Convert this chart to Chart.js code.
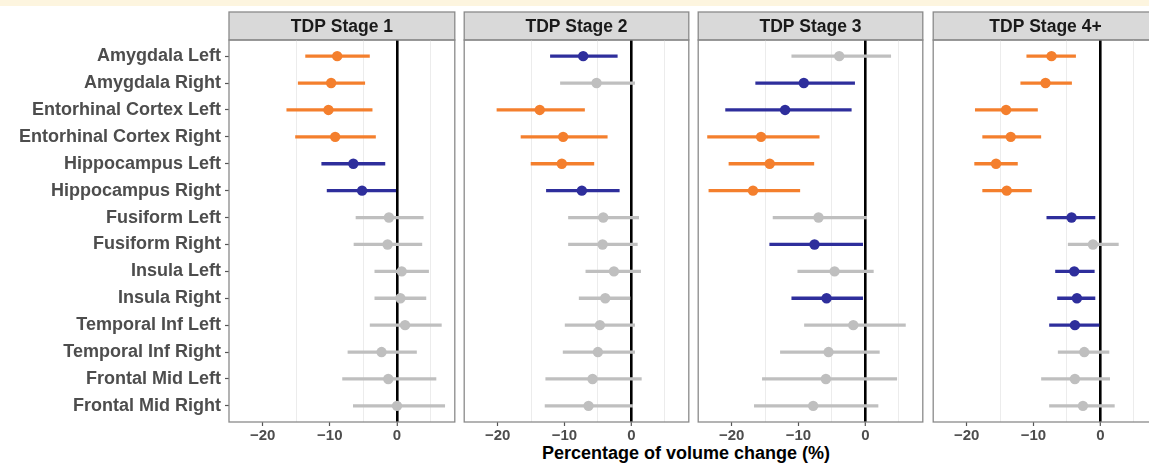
<!DOCTYPE html>
<html>
<head>
<meta charset="utf-8">
<script src="https://cdn.jsdelivr.net/npm/chart.js@4.4.1/dist/chart.umd.min.js"></script>
<style>
  body { margin: 0; background: #fff; overflow: hidden; }
  #wrap { position: relative; width: 1149px; height: 465px; overflow: hidden; background: #fff; }
  #band { position: absolute; left: 0; top: 0; width: 1149px; height: 6px; background: #fdf5df; }
  .panel { position: absolute; top: 0; }
  #xtitle { position: absolute; left: 486px; top: 442px; width: 400px; text-align: center;
            font: bold 18px "Liberation Sans", Arial, sans-serif; line-height: 22px; color: #000; }
</style>
</head>
<body>
<div id="wrap">
  <div id="band"></div>
  <div id="xtitle">Percentage of volume change (%)</div>
</div>
<script>
// regions, top to bottom
var regions = ['Amygdala Left', 'Amygdala Right', 'Entorhinal Cortex Left', 'Entorhinal Cortex Right',
    'Hippocampus Left', 'Hippocampus Right', 'Fusiform Left', 'Fusiform Right', 'Insula Left',
    'Insula Right', 'Temporal Inf Left', 'Temporal Inf Right', 'Frontal Mid Left', 'Frontal Mid Right'];
var stages = ['TDP Stage 1', 'TDP Stage 2', 'TDP Stage 3', 'TDP Stage 4+'];
var xTickValues = [-20, -15, -10, -5, 0, 5];

var stage1Mid = [-8.9, -9.8, -10.2, -9.2, -6.5, -5.2, -1.2, -1.4, 0.7, 0.5, 1.2, -2.3, -1.3, 0.0];
var stage1Lo  = [-13.6, -14.7, -16.4, -15.1, -11.2, -10.4, -6.1, -6.4, -3.3, -3.3, -4.0, -7.3, -8.1, -6.5];
var stage1Hi  = [-4.1, -4.8, -3.7, -3.2, -1.8, 0.0, 3.9, 3.7, 4.7, 4.3, 6.6, 2.9, 5.8, 7.1];
var stage1Sig = ['strong', 'strong', 'strong', 'strong', 'weak', 'weak', 'ns', 'ns', 'ns', 'ns', 'ns', 'ns', 'ns', 'ns'];

var stage2Mid = [-7.2, -5.2, -13.7, -10.2, -10.4, -7.4, -4.2, -4.3, -2.6, -3.9, -4.7, -5.0, -5.8, -6.4];
var stage2Lo  = [-12.1, -10.6, -20.1, -16.5, -15.0, -12.7, -9.4, -9.4, -6.8, -7.8, -9.9, -10.2, -12.8, -12.9];
var stage2Hi  = [-2.1, 0.5, -7.0, -3.6, -5.6, -1.8, 1.1, 0.9, 1.4, 0.0, 0.5, 0.5, 1.5, 0.2];
var stage2Sig = ['weak', 'ns', 'strong', 'strong', 'strong', 'weak', 'ns', 'ns', 'ns', 'ns', 'ns', 'ns', 'ns', 'ns'];

var stage3Mid = [-3.9, -9.2, -12.0, -15.6, -14.3, -16.8, -7.0, -7.6, -4.6, -5.8, -1.8, -5.5, -5.9, -7.8];
var stage3Lo  = [-11.0, -16.4, -20.9, -23.6, -20.4, -23.4, -13.8, -14.3, -10.1, -11.0, -9.1, -12.7, -15.4, -16.6];
var stage3Hi  = [3.8, -1.6, -2.1, -6.9, -7.7, -9.8, 0.2, -0.4, 1.2, -0.4, 6.0, 2.1, 4.7, 1.9];
var stage3Sig = ['ns', 'weak', 'weak', 'strong', 'strong', 'strong', 'ns', 'weak', 'ns', 'weak', 'ns', 'ns', 'ns', 'ns'];

var stage4Mid = [-7.3, -8.2, -14.1, -13.4, -15.6, -14.0, -4.3, -1.1, -3.9, -3.5, -3.8, -2.4, -3.8, -2.6];
var stage4Lo  = [-11.0, -11.9, -18.7, -17.6, -18.8, -17.6, -8.0, -4.8, -6.7, -6.4, -7.6, -6.3, -8.8, -7.6];
var stage4Hi  = [-3.7, -4.3, -9.4, -8.9, -12.4, -10.3, -0.8, 2.7, -0.9, -0.8, 0.0, 1.3, 1.4, 2.1];
var stage4Sig = ['strong', 'strong', 'strong', 'strong', 'strong', 'strong', 'weak', 'ns', 'weak', 'weak', 'weak', 'ns', 'ns', 'ns'];

var sigColors = { strong: '#f47f2d', weak: '#2e2e9c', ns: '#bfbfbf' };
var FONT = '"Liberation Sans", Arial, sans-serif';

// layout of the four facets (plot area left edges, width)
var panelLeft = [229, 463, 697, 932];
var panelWidth = 227;

var panelFrame = {
    id: 'panelFrame',
    beforeDraw: function (chart, args, opts) {
        var a = chart.chartArea, c = chart.ctx;
        c.save();
        c.fillStyle = '#d9d9d9';
        c.fillRect(a.left, 12, a.right - a.left, a.top - 12);
        c.strokeStyle = '#8a8a8a';
        c.lineWidth = 1.3;
        c.strokeRect(a.left, 12, a.right - a.left, a.top - 12);
        c.fillStyle = '#1a1a1a';
        c.font = 'bold 17.5px ' + FONT;
        c.textAlign = 'center';
        c.textBaseline = 'middle';
        c.fillText(opts.label, (a.left + a.right) / 2, 27);
        c.restore();
    },
    afterDraw: function (chart) {
        var a = chart.chartArea, c = chart.ctx;
        c.save();
        c.strokeStyle = '#8a8a8a';
        c.lineWidth = 1.3;
        c.strokeRect(a.left, a.top, a.right - a.left, a.bottom - a.top);
        c.restore();
    }
};

function makePanel(idx, mid, lo, hi, sig) {
    var first = idx === 0;
    var left = first ? 0 : panelLeft[idx] - 4;
    var width = first ? panelLeft[0] + panelWidth + 4 : panelWidth + 8;

    var box = document.createElement('div');
    box.className = 'panel';
    box.style.left = left + 'px';
    var canvas = document.createElement('canvas');
    canvas.width = width;
    canvas.height = 465;
    box.appendChild(canvas);
    document.getElementById('wrap').appendChild(box);

    var colors = sig.map(function (s) { return sigColors[s]; });

    new Chart(canvas.getContext('2d'), {
        type: 'bar',
        data: {
            datasets: [{
                type: 'scatter',
                data: mid.map(function (v, i) { return { x: v, y: i }; }),
                pointRadius: 5.2,
                pointHoverRadius: 5.2,
                pointBorderWidth: 0,
                pointBackgroundColor: colors,
                showLine: false
            }, {
                type: 'bar',
                indexAxis: 'y',
                data: lo.map(function (v, i) { return { y: i, x: [v, hi[i]] }; }),
                backgroundColor: colors,
                borderWidth: 0,
                barThickness: 2.6
            }]
        },
        options: {
            indexAxis: 'y',
            responsive: false,
            animation: false,
            events: [],
            layout: { padding: { left: first ? 0 : 4, right: 4, top: 40, bottom: 0 } },
            plugins: {
                legend: { display: false },
                tooltip: { enabled: false },
                panelFrame: { label: stages[idx] }
            },
            scales: {
                x: {
                    type: 'linear',
                    min: -25,
                    max: 8.6,
                    bounds: 'data',
                    offset: false,
                    afterBuildTicks: function (s) {
                        s.ticks = xTickValues.map(function (v) { return { value: v }; });
                    },
                    afterFit: function (s) { s.height = 43; },
                    border: { display: false },
                    grid: {
                        offset: false,
                        color: function (c) {
                            var v = c.tick.value;
                            if (v === 0) return '#000';
                            return v % 10 === 0 ? 'rgba(0,0,0,0)' : '#ececec';
                        },
                        lineWidth: function (c) { return c.tick.value === 0 ? 2.6 : 1; },
                        tickColor: function (c) { return c.tick.value % 10 === 0 ? '#555' : 'rgba(0,0,0,0)'; },
                        tickWidth: 1.2,
                        tickLength: 4
                    },
                    ticks: {
                        padding: 1,
                        maxRotation: 0,
                        autoSkip: false,
                        color: '#4d4d4d',
                        font: { family: FONT, size: 15, weight: 'bold' },
                        callback: function (v) {
                            return v % 10 === 0 ? String(v).replace('-', '\u2212') : '';
                        }
                    }
                },
                y: {
                    type: 'linear',
                    display: first,
                    reverse: true,
                    min: -0.6,
                    max: regions.length - 0.4,
                    bounds: 'data',
                    offset: false,
                    afterBuildTicks: function (s) {
                        s.ticks = regions.map(function (r, i) { return { value: i }; });
                    },
                    afterFit: first ? function (s) { s.width = panelLeft[0]; } : undefined,
                    border: { display: false },
                    grid: {
                        offset: false,
                        drawOnChartArea: false,
                        tickColor: '#555',
                        tickWidth: 1.2,
                        tickLength: 4
                    },
                    ticks: {
                        padding: 4,
                        autoSkip: false,
                        color: '#4d4d4d',
                        font: { family: FONT, size: 18, weight: 'bold' },
                        callback: function (v) { return regions[v]; }
                    }
                }
            }
        },
        plugins: [panelFrame]
    });
}

makePanel(0, stage1Mid, stage1Lo, stage1Hi, stage1Sig);
makePanel(1, stage2Mid, stage2Lo, stage2Hi, stage2Sig);
makePanel(2, stage3Mid, stage3Lo, stage3Hi, stage3Sig);
makePanel(3, stage4Mid, stage4Lo, stage4Hi, stage4Sig);
</script>
</body>
</html>
